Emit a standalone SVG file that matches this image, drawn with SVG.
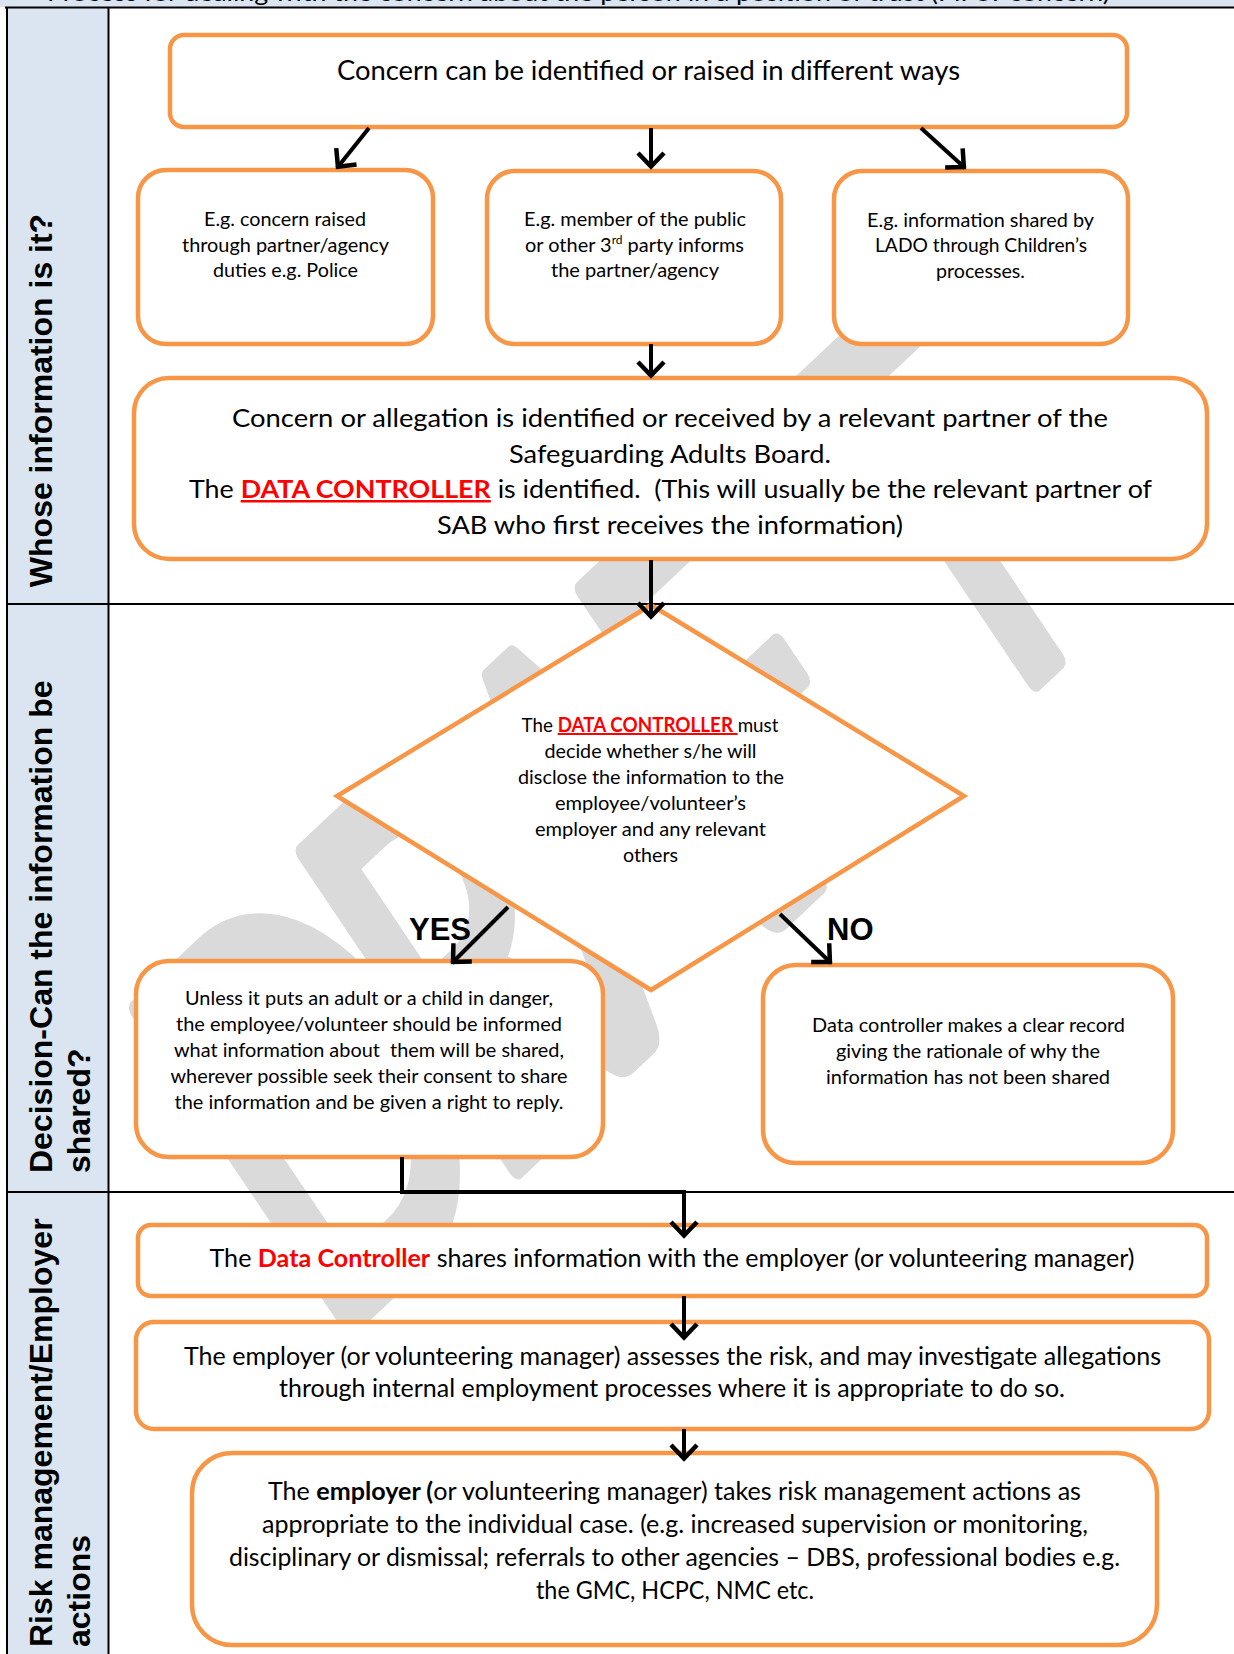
<svg xmlns="http://www.w3.org/2000/svg" width="1234" height="1654" viewBox="0 0 1234 1654">
<defs>
<marker id="ah" markerUnits="userSpaceOnUse" markerWidth="40" markerHeight="40" viewBox="-20 -20 40 40" refX="0" refY="0" orient="auto">
<path d="M-15,-13 L-1.5,0 L-15,13" fill="none" stroke="#000" stroke-width="4.5"/>
</marker>
<style>
.box{fill:#fff;stroke:#f79646;stroke-width:4.5}
.t{font-family:Lato,'Open Sans',sans-serif;fill:#000;text-anchor:middle}
.lbl{font-family:'Liberation Sans',Arial,sans-serif;font-weight:bold;font-size:32px;fill:#000}
.yn{font-family:'Liberation Sans',Arial,sans-serif;font-weight:bold;font-size:31px;fill:#000}
.conn{fill:none;stroke:#000;stroke-width:4}
.red{fill:#ff0000;font-weight:bold}
.ul{text-decoration:underline}
.sec{stroke:#000;stroke-width:2;fill:none}
.wm{font-family:Lato,'Open Sans',sans-serif;font-size:100px;fill:#dadada;stroke:#dadada;stroke-width:4;stroke-linejoin:round}
</style>
</defs>
<rect x="0" y="0" width="1234" height="1654" fill="#fff"/>
<g id="watermark">
<text class="wm" transform="matrix(2.526,-2.377,2.96,4.40,325.6,1348)" x="0 66 120 176.5 255.5" y="0">DRAFT</text>
</g>
<g id="frame">
<rect x="0" y="0" width="1234" height="7" fill="#dbe5f1"/>
<text x="47" y="1" font-family="Lato,'Open Sans',sans-serif" font-size="23" textLength="1063" lengthAdjust="spacingAndGlyphs" fill="#000">Process for dealing with the concern about the person in a position of trust (PiPoT concern)</text>
<rect x="7" y="7" width="102" height="1647" fill="#dbe5f1"/>
<line class="sec" x1="5" y1="7.5" x2="1234" y2="7.5" stroke-width="2.5"/>
<line class="sec" x1="7" y1="7" x2="7" y2="1654"/>
<line class="sec" x1="108.5" y1="7" x2="108.5" y2="1654"/>
<line class="sec" x1="7" y1="604" x2="1234" y2="604"/>
<line class="sec" x1="7" y1="1192" x2="1234" y2="1192"/>
<text class="lbl" transform="translate(51.5,400.5) rotate(-90)" text-anchor="middle">Whose information is it?</text>
<text class="lbl" transform="translate(51.5,1173) rotate(-90)">Decision-Can the information be</text>
<text class="lbl" transform="translate(89.5,1173) rotate(-90)">shared?</text>
<text class="lbl" transform="translate(51.5,1647) rotate(-90)">Risk management/Employer</text>
<text class="lbl" transform="translate(89.5,1647) rotate(-90)">actions</text>
</g>
<g id="n-top">
<rect class="box" x="170" y="35" width="957" height="92" rx="14"/>
<text class="t" x="648.5" y="80" font-size="26" textLength="623" lengthAdjust="spacingAndGlyphs">Concern can be identified or raised in different ways</text>
</g>
<g id="n-a">
<rect class="box" x="138" y="170" width="295" height="174" rx="28"/>
<text class="t" font-size="20" x="285" y="226" textLength="162" lengthAdjust="spacingAndGlyphs">E.g. concern raised</text>
<text class="t" font-size="20" x="285.5" y="252" textLength="207" lengthAdjust="spacingAndGlyphs">through partner/agency</text>
<text class="t" font-size="20" x="285.5" y="277" textLength="145" lengthAdjust="spacingAndGlyphs">duties e.g. Police</text>
</g>
<g id="n-b">
<rect class="box" x="487" y="171" width="294" height="173" rx="28"/>
<text class="t" font-size="20" x="635" y="226" textLength="222" lengthAdjust="spacingAndGlyphs">E.g. member of the public</text>
<text class="t" font-size="20" x="634.5" y="252" textLength="219" lengthAdjust="spacingAndGlyphs">or other 3<tspan font-size="12" dy="-8">rd</tspan><tspan dy="8"> party informs</tspan></text>
<text class="t" font-size="20" x="635" y="277" textLength="168" lengthAdjust="spacingAndGlyphs">the partner/agency</text>
</g>
<g id="n-c">
<rect class="box" x="834" y="171" width="294" height="173" rx="28"/>
<text class="t" font-size="20" x="980.5" y="227" textLength="227" lengthAdjust="spacingAndGlyphs">E.g. information shared by</text>
<text class="t" font-size="20" x="981" y="252" textLength="212" lengthAdjust="spacingAndGlyphs">LADO through Children’s</text>
<text class="t" font-size="20" x="980.5" y="278" textLength="89" lengthAdjust="spacingAndGlyphs">processes.</text>
</g>
<g id="n-big">
<rect class="box" x="134" y="378" width="1073" height="181" rx="35"/>
<text class="t" font-size="25" x="670" y="427" textLength="876" lengthAdjust="spacingAndGlyphs">Concern or allegation is identified or received by a relevant partner of the</text>
<text class="t" font-size="25" x="670" y="463" textLength="322" lengthAdjust="spacingAndGlyphs">Safeguarding Adults Board.</text>
<text class="t" font-size="25" x="670.5" y="498" textLength="963" lengthAdjust="spacingAndGlyphs" xml:space="preserve">The <tspan class="red ul">DATA CONTROLLER</tspan> is identified.  (This will usually be the relevant partner of</text>
<text class="t" font-size="25" x="670" y="534" textLength="466" lengthAdjust="spacingAndGlyphs">SAB who first receives the information)</text>
</g>
<g id="n-diamond">
<polygon class="box" points="651,605 964,796 651,990 337,796" stroke-width="4"/>
<text class="t" font-size="20" x="650" y="732" textLength="257" lengthAdjust="spacingAndGlyphs" xml:space="preserve">The <tspan class="red ul">DATA CONTROLLER </tspan>must</text>
<text class="t" font-size="20" x="650.5" y="758" textLength="212" lengthAdjust="spacingAndGlyphs">decide whether s/he will</text>
<text class="t" font-size="20" x="651" y="784" textLength="266" lengthAdjust="spacingAndGlyphs">disclose the information to the</text>
<text class="t" font-size="20" x="650.5" y="810" textLength="191" lengthAdjust="spacingAndGlyphs">employee/volunteer’s</text>
<text class="t" font-size="20" x="650.5" y="836" textLength="231" lengthAdjust="spacingAndGlyphs">employer and any relevant</text>
<text class="t" font-size="20" x="650.5" y="862" textLength="55" lengthAdjust="spacingAndGlyphs">others</text>
</g>
<g id="lbl-yes"><text class="yn" x="409" y="940">YES</text></g>
<g id="lbl-no"><text class="yn" x="827" y="940">NO</text></g>
<g id="n-yes">
<rect class="box" x="136" y="961" width="467" height="196" rx="33"/>
<text class="t" font-size="20" x="369" y="1005" textLength="368" lengthAdjust="spacingAndGlyphs">Unless it puts an adult or a child in danger,</text>
<text class="t" font-size="20" x="369" y="1031" textLength="386" lengthAdjust="spacingAndGlyphs">the employee/volunteer should be informed</text>
<text class="t" font-size="20" x="369" y="1057" textLength="390" lengthAdjust="spacingAndGlyphs" xml:space="preserve">what information about  them will be shared,</text>
<text class="t" font-size="20" x="369" y="1083" textLength="397" lengthAdjust="spacingAndGlyphs">wherever possible seek their consent to share</text>
<text class="t" font-size="20" x="369" y="1109" textLength="389" lengthAdjust="spacingAndGlyphs">the information and be given a right to reply.</text>
</g>
<g id="n-no">
<rect class="box" x="763" y="965" width="410" height="198" rx="33"/>
<text class="t" font-size="20" x="968.5" y="1032" textLength="313" lengthAdjust="spacingAndGlyphs">Data controller makes a clear record</text>
<text class="t" font-size="20" x="968" y="1058" textLength="264" lengthAdjust="spacingAndGlyphs">giving the rationale of why the</text>
<text class="t" font-size="20" x="968" y="1084" textLength="284" lengthAdjust="spacingAndGlyphs">information has not been shared</text>
</g>
<g id="n-share">
<rect class="box" x="138" y="1225" width="1069" height="71" rx="13"/>
<text class="t" font-size="25" x="672" y="1267" textLength="925" lengthAdjust="spacingAndGlyphs">The <tspan class="red">Data Controller</tspan> shares information with the employer (or volunteering manager)</text>
</g>
<g id="n-assess">
<rect class="box" x="136" y="1322" width="1073" height="107" rx="18"/>
<text class="t" font-size="24.5" x="672.5" y="1365" textLength="977" lengthAdjust="spacingAndGlyphs">The employer (or volunteering manager) assesses the risk, and may investigate allegations</text>
<text class="t" font-size="24.5" x="672" y="1397" textLength="786" lengthAdjust="spacingAndGlyphs">through internal employment processes where it is appropriate to do so.</text>
</g>
<g id="n-actions">
<rect class="box" x="192" y="1453" width="965" height="192" rx="40"/>
<text class="t" font-size="24.5" x="674.5" y="1500" textLength="813" lengthAdjust="spacingAndGlyphs">The <tspan font-weight="bold">employer (</tspan>or volunteering manager) takes risk management actions as</text>
<text class="t" font-size="24.5" x="675" y="1533" textLength="826" lengthAdjust="spacingAndGlyphs">appropriate to the individual case. (e.g. increased supervision or monitoring,</text>
<text class="t" font-size="24.5" x="674.5" y="1566" textLength="891" lengthAdjust="spacingAndGlyphs">disciplinary or dismissal; referrals to other agencies – DBS, professional bodies e.g.</text>
<text class="t" font-size="24.5" x="675" y="1599" textLength="278" lengthAdjust="spacingAndGlyphs">the GMC, HCPC, NMC etc.</text>
</g>
<g id="connectors">
<line class="conn" x1="369" y1="128" x2="337" y2="168" marker-end="url(#ah)"/>
<line class="conn" x1="651" y1="128" x2="651" y2="168" marker-end="url(#ah)"/>
<line class="conn" x1="921" y1="128" x2="965" y2="168" marker-end="url(#ah)"/>
<line class="conn" x1="651" y1="344" x2="651" y2="377" marker-end="url(#ah)"/>
<line class="conn" x1="651" y1="560" x2="651" y2="618" marker-end="url(#ah)"/>
<line class="conn" x1="508" y1="907" x2="452" y2="963" marker-end="url(#ah)"/>
<line class="conn" x1="780" y1="914" x2="831" y2="963" marker-end="url(#ah)"/>
<polyline class="conn" points="402,1157 402,1192 684,1192 684,1237" marker-end="url(#ah)"/>
<line class="conn" x1="684" y1="1296" x2="684" y2="1339" marker-end="url(#ah)"/>
<line class="conn" x1="684" y1="1429" x2="684" y2="1460" marker-end="url(#ah)"/>
</g>
</svg>
